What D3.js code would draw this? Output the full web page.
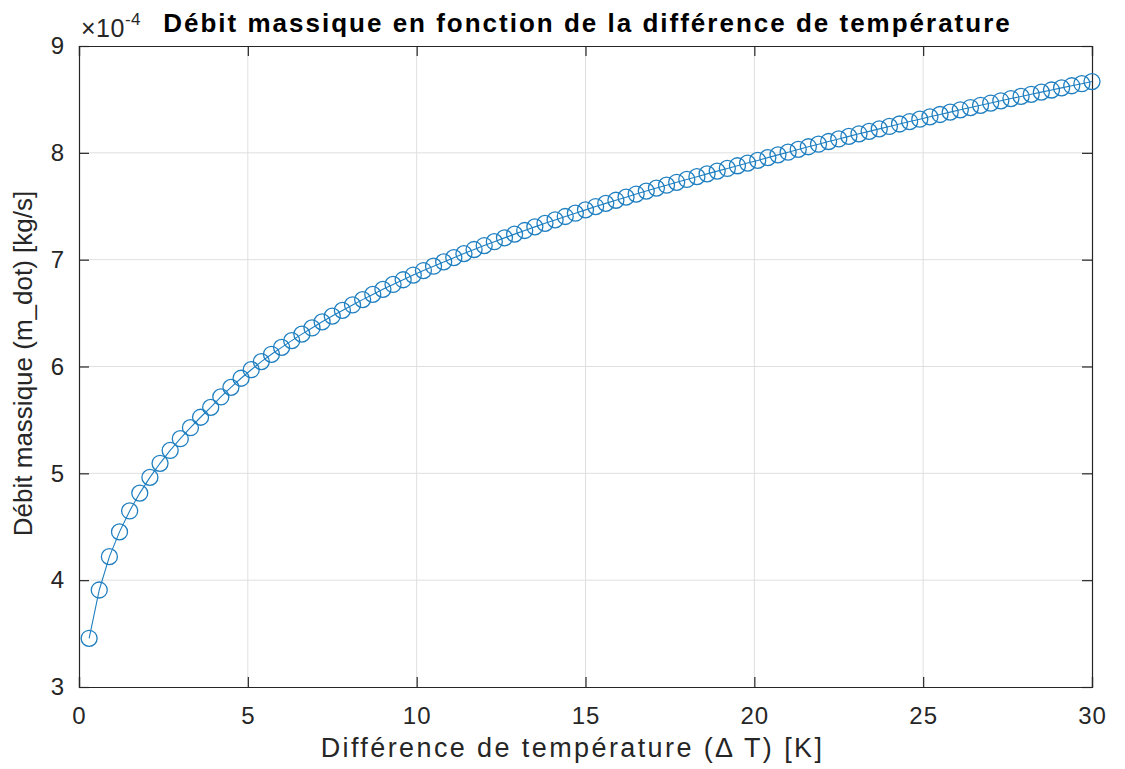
<!DOCTYPE html>
<html>
<head>
<meta charset="utf-8">
<script src="https://cdn.jsdelivr.net/npm/d3@7"></script>
<style>
  html, body { margin: 0; padding: 0; background: #ffffff; }
  svg { display: block; }
  text { font-family: "Liberation Sans", Arial, Helvetica, sans-serif; }
</style>
</head>
<body>
<svg id="chart" width="1125" height="769"></svg>
<script>
// ---- data ----
const titleText = "Débit massique en fonction de la différence de température";
const xLabel = "Différence de température (\u0394 T) [K]";
const yLabel = "Débit massique (m_dot) [kg/s]";
const yExponent = "-4";

// temperature difference ΔT [K]
const deltaT = [
  0.3, 0.6, 0.9, 1.2, 1.5, 1.8, 2.1, 2.4, 2.7, 3.0,
  3.3, 3.6, 3.9, 4.2, 4.5, 4.8, 5.1, 5.4, 5.7, 6.0,
  6.3, 6.6, 6.9, 7.2, 7.5, 7.8, 8.1, 8.4, 8.7, 9.0,
  9.3, 9.6, 9.9, 10.2, 10.5, 10.8, 11.1, 11.4, 11.7, 12.0,
  12.3, 12.6, 12.9, 13.2, 13.5, 13.8, 14.1, 14.4, 14.7, 15.0,
  15.3, 15.6, 15.9, 16.2, 16.5, 16.8, 17.1, 17.4, 17.7, 18.0,
  18.3, 18.6, 18.9, 19.2, 19.5, 19.8, 20.1, 20.4, 20.7, 21.0,
  21.3, 21.6, 21.9, 22.2, 22.5, 22.8, 23.1, 23.4, 23.7, 24.0,
  24.3, 24.6, 24.9, 25.2, 25.5, 25.8, 26.1, 26.4, 26.7, 27.0,
  27.3, 27.6, 27.9, 28.2, 28.5, 28.8, 29.1, 29.4, 29.7, 30.0
];

// mass flow rate, in units of 1e-4 kg/s
const massFlow = [
  3.456, 3.908, 4.220, 4.452, 4.648, 4.815, 4.962, 5.094, 5.214, 5.324,
  5.427, 5.525, 5.617, 5.715, 5.805, 5.890, 5.970, 6.046, 6.114, 6.179,
  6.242, 6.303, 6.361, 6.418, 6.472, 6.525, 6.576, 6.626, 6.675, 6.722,
  6.768, 6.812, 6.856, 6.898, 6.939, 6.979, 7.019, 7.057, 7.095, 7.132,
  7.168, 7.204, 7.239, 7.273, 7.307, 7.340, 7.372, 7.404, 7.435, 7.466,
  7.497, 7.527, 7.556, 7.585, 7.614, 7.642, 7.670, 7.697, 7.724, 7.751,
  7.777, 7.803, 7.829, 7.854, 7.879, 7.904, 7.929, 7.955, 7.981, 8.006,
  8.032, 8.057, 8.081, 8.106, 8.130, 8.154, 8.178, 8.201, 8.224, 8.247,
  8.270, 8.293, 8.315, 8.337, 8.359, 8.381, 8.403, 8.424, 8.445, 8.466,
  8.487, 8.508, 8.528, 8.548, 8.568, 8.588, 8.608, 8.628, 8.647, 8.667
];

const xTicks = [0, 5, 10, 15, 20, 25, 30];
const yTicks = [3, 4, 5, 6, 7, 8, 9];

// ---- layout ----
const plot = { left: 79, right: 1092, top: 46, bottom: 687 };
const axisColor = "#262626";
const gridColor = "#dfdfdf";
const lineColor = "#1f7fc0";
const tickLen = 10;

const svg = d3.select("#chart");
svg.append("rect").attr("width", 1125).attr("height", 769).attr("fill", "#fff");

const x = d3.scaleLinear().domain([0, 30]).range([plot.left, plot.right]);
const y = d3.scaleLinear().domain([3, 9]).range([plot.bottom, plot.top]);

// grid
const grid = svg.append("g");
grid.selectAll("line.gx").data(xTicks.slice(1, -1)).join("line")
  .attr("x1", d => x(d)).attr("x2", d => x(d))
  .attr("y1", plot.top).attr("y2", plot.bottom)
  .attr("stroke", gridColor).attr("stroke-width", 1);
grid.selectAll("line.gy").data(yTicks.slice(1, -1)).join("line")
  .attr("x1", plot.left).attr("x2", plot.right)
  .attr("y1", d => y(d)).attr("y2", d => y(d))
  .attr("stroke", gridColor).attr("stroke-width", 1);

// axes (ticks inward) via d3 axis generators
const fontSize = 24;
const xAxisB = d3.axisBottom(x).tickValues(xTicks).tickSize(-tickLen).tickPadding(20).tickFormat(d3.format("d"));
const xAxisT = d3.axisTop(x).tickValues(xTicks).tickSize(-tickLen).tickFormat("");
const yAxisL = d3.axisLeft(y).tickValues(yTicks).tickSize(-tickLen).tickPadding(14).tickFormat(d3.format("d"));
const yAxisR = d3.axisRight(y).tickValues(yTicks).tickSize(-tickLen).tickFormat("");

function styleAxis(g) {
  g.select(".domain").attr("stroke", axisColor).attr("stroke-width", 1.2).attr("fill", "none");
  g.selectAll(".tick line").attr("stroke", axisColor).attr("stroke-width", 1.2);
  g.selectAll(".tick text").attr("fill", axisColor).attr("font-size", fontSize)
    .attr("letter-spacing", 1)
    .attr("font-family", "Liberation Sans, Arial, sans-serif");
}

svg.append("g").attr("transform", `translate(0,${plot.bottom})`).call(xAxisB).call(styleAxis);
svg.append("g").attr("transform", `translate(0,${plot.top})`).call(xAxisT).call(styleAxis);
svg.append("g").attr("transform", `translate(${plot.left},0)`).call(yAxisL).call(styleAxis);
svg.append("g").attr("transform", `translate(${plot.right},0)`).call(yAxisR).call(styleAxis);

// data line
const pts = deltaT.map((d, i) => [d, massFlow[i]]);
svg.append("path")
  .datum(pts)
  .attr("d", d3.line().x(d => x(d[0])).y(d => y(d[1])))
  .attr("fill", "none").attr("stroke", lineColor).attr("stroke-width", 1.1);

svg.append("g").selectAll("circle").data(pts).join("circle")
  .attr("cx", d => x(d[0])).attr("cy", d => y(d[1]))
  .attr("r", 8)
  .attr("fill", "none").attr("stroke", lineColor).attr("stroke-width", 1.3);

// exponent label ×10^-4
const expo = svg.append("text").attr("x", plot.left + 2).attr("y", 37)
  .attr("fill", axisColor).attr("font-size", 25).attr("letter-spacing", 0.5);
expo.append("tspan").text("\u00d710");
expo.append("tspan").attr("dy", -12).attr("font-size", 17).text(yExponent);

// title
svg.append("text")
  .attr("x", (plot.left + plot.right) / 2 + 2).attr("y", 32)
  .attr("text-anchor", "middle").attr("font-weight", "bold")
  .attr("font-size", 26).attr("letter-spacing", 2.0).attr("fill", "#000")
  .text(titleText);

// axis labels
svg.append("text")
  .attr("x", (plot.left + plot.right) / 2 - 13).attr("y", 757)
  .attr("text-anchor", "middle").attr("font-size", 27).attr("letter-spacing", 2.4).attr("fill", axisColor)
  .text(xLabel);

svg.append("text")
  .attr("transform", `translate(32,${(plot.top + plot.bottom) / 2 - 3}) rotate(-90)`)
  .attr("text-anchor", "middle").attr("font-size", 26).attr("fill", axisColor)
  .text(yLabel);
</script>
</body>
</html>
